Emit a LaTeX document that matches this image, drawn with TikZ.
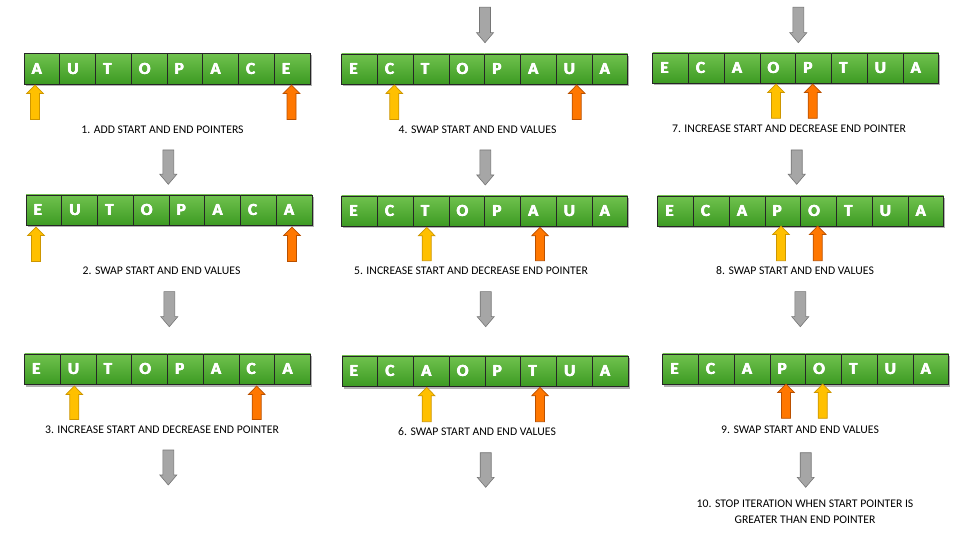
\documentclass[tikz,border=0pt]{standalone}
\usepackage{fontspec}
\setmainfont{Carlito}[BoldFont={Carlito Bold}]
\newcommand\thickletter[1]{\makebox[0pt][l]{#1}\makebox[0pt][l]{\kern0.45pt\raisebox{0.35pt}{#1}}\makebox[0pt][l]{\kern0.45pt#1}\kern0.9pt#1}
\definecolor{gtop}{RGB}{112,194,78}
\definecolor{gbot}{RGB}{60,154,34}
\definecolor{ptrY}{RGB}{255,192,0}
\definecolor{ptrYd}{RGB}{205,150,0}
\definecolor{ptrO}{RGB}{255,119,0}
\definecolor{ptrOd}{RGB}{185,80,0}
\definecolor{grayA}{RGB}{166,166,166}
\definecolor{grayAd}{RGB}{118,118,118}
\tikzset{
  cell/.style={draw=black!85, line width=0.8pt, top color=gtop, bottom color=gbot,
    minimum width=35.75pt, minimum height=30.5pt, inner sep=0pt},
  letter/.style={text=white, font=\fontsize{17}{17}\selectfont\bfseries, inner sep=0pt},
  steplabel/.style={font=\fontsize{11.7}{16}\selectfont, align=center, inner sep=0pt},
  ptrshape/.style={line width=0.7pt},
  grayarrow/.style={fill=grayA, draw=grayAd, line width=0.6pt}
}
\newcommand\strarray[4]{%
  \fill[black!30] (#2+1.5,#3+2) rectangle ++(286,30.5);
  \foreach \ch [count=\i] in {#4} {
    \node[cell] (#1-\i) at ({#2+(\i-0.5)*35.75},{#3+15.25}) {};
    \node[letter, anchor=west] (#1-\i t) at ([xshift=7.5pt]#1-\i.west) {\thickletter{\ch}};
  }
}
\newcommand\ptr[4]{% x, tip, bottom, color
  \filldraw[ptrshape, fill=#4, draw=#4d] (#1,#2) -- (#1+8.3,#2+8.5) -- (#1+4.5,#2+8.5)
    -- (#1+4.5,#3) -- (#1-4.5,#3) -- (#1-4.5,#2+8.5) -- (#1-8.3,#2+8.5) -- cycle;
}
\newcommand\garr[3]{% x, top, tip
  \filldraw[grayarrow] (#1-5.5,#2) -- (#1+5.5,#2) -- (#1+5.5,#3-10) -- (#1+8.5,#3-10)
    -- (#1,#3) -- (#1-8.5,#3-10) -- (#1-5.5,#3-10) -- cycle;
}
\begin{document}
\begin{tikzpicture}[x=1pt,y=-1pt]
\fill[white] (0,0) rectangle (956,537);
\useasboundingbox (0,0) rectangle (956,537);

% arrays
\strarray{s1}{24}{53.5}{A,U,T,O,P,A,C,E}
\strarray{s2}{26}{195}{E,U,T,O,P,A,C,A}
\strarray{s3}{24.5}{354}{E,U,T,O,P,A,C,A}
\strarray{s4}{341.7}{54}{E,C,T,O,P,A,U,A}
\strarray{s5}{341.7}{196}{E,C,T,O,P,A,U,A}
\strarray{s6}{342}{356}{E,C,A,O,P,T,U,A}
\strarray{s7}{652.7}{53}{E,C,A,O,P,T,U,A}
\strarray{s8}{657.7}{196}{E,C,A,P,O,T,U,A}
\strarray{s9}{662.7}{354}{E,C,A,P,O,T,U,A}

% pointers
\ptr{35}{85}{119.5}{ptrY}    \ptr{291.5}{85}{119.5}{ptrO}
\ptr{36}{227}{261.5}{ptrY}   \ptr{292}{227}{261.5}{ptrO}
\ptr{74.3}{386}{419.5}{ptrY} \ptr{256.7}{386}{419.5}{ptrO}
\ptr{394.3}{85}{119.5}{ptrY} \ptr{576.7}{85}{119.5}{ptrO}
\ptr{426.7}{227.3}{260.7}{ptrY} \ptr{540}{227.3}{260.7}{ptrO}
\ptr{426.7}{387.3}{421.7}{ptrY} \ptr{540}{387.3}{421.7}{ptrO}
\ptr{776}{84}{118.3}{ptrY}   \ptr{812.7}{84}{118.3}{ptrO}
\ptr{781}{226}{260.7}{ptrY}  \ptr{817.7}{226}{260.7}{ptrO}
\ptr{822.7}{384}{418.3}{ptrY} \ptr{786}{384}{418.3}{ptrO}

% gray flow arrows
\garr{168.3}{150}{184.3}
\garr{169.3}{291.7}{326.7}
\garr{168.3}{450}{485}
\garr{485}{7.3}{42.7}
\garr{485.3}{150}{185}
\garr{485.7}{291.7}{326.7}
\garr{485.7}{452.7}{487.3}
\garr{798.3}{7.3}{42.7}
\garr{796.7}{150}{184.3}
\garr{800.3}{291.7}{326.7}
\garr{805.7}{452.7}{487.3}

% labels
\node[steplabel] (l1) at (162.5,130) {1. ADD START AND END POINTERS};
\node[steplabel] (l2) at (161.5,271) {2. SWAP START AND END VALUES};
\node[steplabel] (l3) at (162,430) {3. INCREASE START AND DECREASE END POINTER};
\node[steplabel] (l4) at (477.5,130) {4. SWAP START AND END VALUES};
\node[steplabel] (l5) at (471,271) {5. INCREASE START AND DECREASE END POINTER};
\node[steplabel] (l6) at (477,432) {6. SWAP START AND END VALUES};
\node[steplabel] (l7) at (789,129) {7. INCREASE START AND DECREASE END POINTER};
\node[steplabel] (l8) at (795,271) {8. SWAP START AND END VALUES};
\node[steplabel] (l9) at (800,430) {9. SWAP START AND END VALUES};
\node[steplabel] (l10) at (805,512) {10. STOP ITERATION WHEN START POINTER IS\\GREATER THAN END POINTER};
\end{tikzpicture}
\end{document}
